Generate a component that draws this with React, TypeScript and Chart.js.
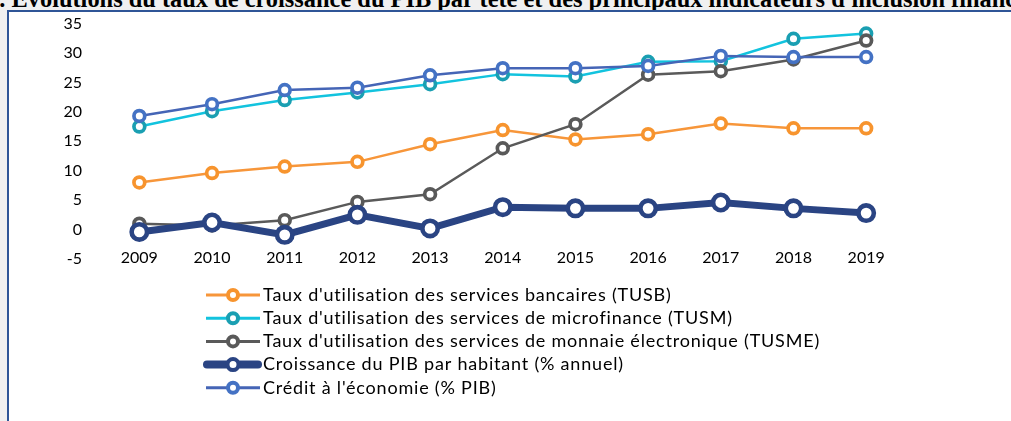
import React, { useEffect, useRef } from 'react';
import { Chart, registerables } from 'chart.js';

Chart.register(...registerables);

const years = ['2009', '2010', '2011', '2012', '2013', '2014', '2015', '2016', '2017', '2018', '2019'];
const tusb = [8.0, 9.6, 10.7, 11.5, 14.5, 16.9, 15.3, 16.2, 18.0, 17.2, 17.2];
const tusm = [17.5, 20.1, 22.0, 23.3, 24.7, 26.4, 26.0, 28.5, 28.6, 32.4, 33.3];
const tusme = [1.0, 0.7, 1.6, 4.7, 6.0, 13.8, 17.9, 26.3, 26.9, 28.9, 32.1];
const pib = [-0.4, 1.2, -0.9, 2.5, 0.2, 3.8, 3.6, 3.6, 4.6, 3.6, 2.8];
const credit = [19.3, 21.3, 23.7, 24.1, 26.2, 27.4, 27.4, 27.8, 29.5, 29.3, 29.3];
const seriesLabels = [
  "Taux d'utilisation des services bancaires (TUSB)",
  "Taux d'utilisation des services de microfinance (TUSM)",
  "Taux d'utilisation des services de monnaie électronique (TUSME)",
  'Croissance du PIB par habitant (% annuel)',
  "Crédit à l'économie (% PIB)",
];
const yMin = -5;
const yMax = 35;
const yStep = 5;
const titlePrefix = 'Graphique 1. ';
const titleText = "Évolutions du taux de croissance du PIB par tête et des principaux indicateurs d'inclusion financière";

const FONT = 'Lato, "Open Sans", sans-serif';

const legendPlugin = {
  id: 'stackLegend',
  afterDraw(chart: any) {
    const { ctx } = chart;
    ctx.save();
    chart.data.datasets.forEach((ds: any, i: number) => {
      const y = 295 + i * 23.2;
      const thick = ds.borderWidth > 4;
      ctx.beginPath();
      ctx.lineCap = thick ? 'round' : 'butt';
      ctx.lineWidth = thick ? 8 : 3;
      ctx.strokeStyle = ds.borderColor;
      ctx.moveTo(thick ? 207 : 206, y);
      ctx.lineTo(thick ? 258 : 260, y);
      ctx.stroke();
      ctx.beginPath();
      ctx.arc(233, y, thick ? 5.5 : 5, 0, Math.PI * 2);
      ctx.fillStyle = '#ffffff';
      ctx.fill();
      ctx.lineWidth = 4;
      ctx.strokeStyle = ds.pointBorderColor;
      ctx.stroke();
      ctx.fillStyle = '#000000';
      ctx.font = `18px ${FONT}`;
      try {
        ctx.letterSpacing = '0.8px';
      } catch (e) {
        /* ignore */
      }
      ctx.textBaseline = 'middle';
      ctx.textAlign = 'left';
      ctx.fillText(ds.label, 263, y);
      try {
        ctx.letterSpacing = '0px';
      } catch (e) {
        /* ignore */
      }
    });
    ctx.restore();
  },
};

export default function App() {
  const canvasRef = useRef<HTMLCanvasElement | null>(null);

  useEffect(() => {
    if (!canvasRef.current) return;
    const thin = (label: string, line: string, marker: string, data: number[], order: number) => ({
      label,
      data,
      borderColor: line,
      backgroundColor: '#ffffff',
      borderWidth: 2.5,
      pointRadius: 5.4,
      pointBorderWidth: 3.7,
      pointBorderColor: marker,
      pointBackgroundColor: '#ffffff',
      pointHoverRadius: 5.4,
      tension: 0,
      order,
    });
    const chart = new Chart(canvasRef.current, {
      type: 'line',
      data: {
        labels: years,
        datasets: [
          thin(seriesLabels[0], '#F7963A', '#F7942E', tusb, 5),
          thin(seriesLabels[1], '#12C3DE', '#1A9FB2', tusm, 4),
          thin(seriesLabels[2], '#5A5A5A', '#595959', tusme, 3),
          {
            label: seriesLabels[3],
            data: pib,
            borderColor: '#2A4483',
            backgroundColor: '#ffffff',
            borderWidth: 7,
            pointRadius: 7.7,
            pointBorderWidth: 4.6,
            pointBorderColor: '#2A4483',
            pointBackgroundColor: '#ffffff',
            pointHoverRadius: 7.7,
            tension: 0,
            order: 2,
          },
          thin(seriesLabels[4], '#4565B6', '#4472C4', credit, 1),
        ],
      },
      options: {
        animation: false,
        responsive: false,
        events: [],
        layout: { padding: { left: 0, right: 108.5, top: 23.5, bottom: 142 } },
        plugins: {
          legend: { display: false },
          tooltip: { enabled: false },
          title: { display: false },
        },
        scales: {
          x: {
            offset: true,
            grid: { display: false, drawTicks: false },
            border: { display: false },
            ticks: {
              color: '#000000',
              font: { family: FONT, size: 16 },
              mirror: true,
              padding: -8,
              maxRotation: 0,
              autoSkip: false,
            },
            afterFit: (scale: any) => {
              scale.height = 20;
              scale.paddingLeft = 0;
              scale.paddingRight = 0;
            },
          },
          y: {
            min: yMin,
            max: yMax,
            grid: { display: false, drawTicks: false },
            border: { display: false },
            ticks: {
              stepSize: yStep,
              color: '#000000',
              font: { family: FONT, size: 16 },
              padding: 21,
            },
            afterFit: (scale: any) => {
              scale.width = 103;
              scale.paddingTop = 0;
              scale.paddingBottom = 0;
            },
          },
        },
      },
      plugins: [legendPlugin],
    });
    return () => chart.destroy();
  }, []);

  return (
    <div
      style={{
        position: 'fixed',
        left: 0,
        top: 0,
        width: 1011,
        height: 421,
        background: '#f0f0f0',
        overflow: 'hidden',
      }}
    >
      <div
        style={{
          position: 'absolute',
          left: 11.5,
          top: -14.8,
          whiteSpace: 'nowrap',
          fontFamily: '"Liberation Serif", "Times New Roman", serif',
          fontWeight: 'bold',
          fontSize: 24.4,
          lineHeight: 'normal',
          color: '#000',
        }}
      >
        <span style={{ position: 'absolute', right: '100%', whiteSpace: 'pre' }}>{titlePrefix}</span>
        {titleText}
      </div>
      <div
        style={{
          position: 'absolute',
          left: 7,
          top: 10,
          width: 1100,
          height: 500,
          background: '#ffffff',
          borderLeft: '2px solid #2F5597',
          borderTop: '2px solid #2F5597',
        }}
      />
      <canvas
        ref={canvasRef}
        width={1011}
        height={421}
        style={{ position: 'absolute', left: 0, top: 0, width: 1011, height: 421 }}
      />
    </div>
  );
}
